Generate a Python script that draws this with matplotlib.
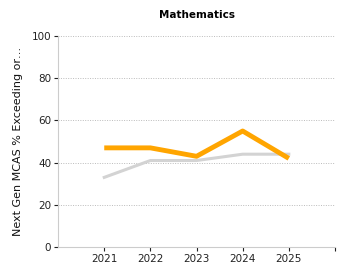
import matplotlib
matplotlib.use("Agg")
import matplotlib.pyplot as plt

years = [2021, 2022, 2023, 2024, 2025]
school = [47, 47, 43, 55, 42]
state = [33, 41, 41, 44, 44]
title = "Mathematics"
ylabel = "Next Gen MCAS % Exceeding or…"

fig = plt.figure(figsize=(3.5, 2.8), dpi=100)
ax = fig.add_axes([0.166, 0.118, 0.791, 0.753])
ax.plot(years, state, color="#d3d3d3", lw=2.2, zorder=2)
ax.plot(years, school, color="#ffa500", lw=3.5, zorder=3, solid_capstyle="butt")
ax.set_xlim(2020, 2026)
ax.set_ylim(0, 100)
ax.set_xticks([2021, 2022, 2023, 2024, 2025, 2026])
ax.set_xticklabels(["2021", "2022", "2023", "2024", "2025", ""])
ax.set_yticks([0, 20, 40, 60, 80, 100])
ax.grid(axis="y", linestyle=(0, (1, 1.5)), color="#bbbbbb", lw=0.7)
ax.set_axisbelow(True)
for s in ["top", "right"]:
    ax.spines[s].set_visible(False)
for s in ["left", "bottom"]:
    ax.spines[s].set_color("#cccccc")
    ax.spines[s].set_linewidth(0.8)
ax.tick_params(axis="both", labelsize=7.5, colors="#222222", length=3, width=0.8, pad=2)
ax.set_ylabel(ylabel, fontsize=8, color="#111111", labelpad=6)
ax.set_title(title, fontsize=7.5, fontweight="heavy", pad=13)
fig.savefig("out.png", dpi=100)
